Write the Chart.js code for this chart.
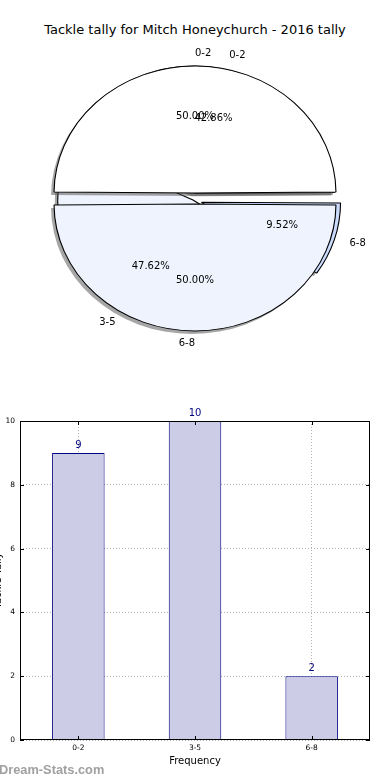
<!DOCTYPE html>
<html>
<head>
<meta charset="utf-8">
<script src="https://cdn.jsdelivr.net/npm/chart.js@4.4.1/dist/chart.umd.min.js"></script>
<style>
  html, body { margin: 0; padding: 0; background: #fff; }
  body { width: 390px; height: 780px; position: relative; overflow: hidden; font-family: "DejaVu Sans", sans-serif; }
  canvas { position: absolute; left: 0; }
  #title { position: absolute; top: 22px; left: 0; width: 390px; text-align: center; font-size: 13px; line-height: 16px; color: #000; }
  #brand { position: absolute; left: -1px; top: 762px; font-family: "Liberation Sans", sans-serif; font-size: 12.8px; font-weight: bold; line-height: 15px; color: #a0a0a0; }
</style>
</head>
<body>
<div id="title">Tackle tally for Mitch Honeychurch - 2016 tally</div>
<canvas id="pieBack" width="390" height="398" style="top:0"></canvas>
<canvas id="pieFront" width="390" height="398" style="top:0"></canvas>
<canvas id="bars" width="390" height="390" style="top:390px"></canvas>
<div id="brand">Dream-Stats.com</div>
<script>
// data
const binLabels = ['0-2', '3-5', '6-8'];
const tallyCounts = [9, 10, 2];
const splitLabels = ['0-2', '6-8'];
const splitCounts = [1, 1];
const yTickValues = [0, 2, 4, 6, 8, 10];
const xTitle = 'Frequency';
const yTitle = 'Tackle Tally';

Chart.defaults.font.family = '"DejaVu Sans", sans-serif';

// charts whose slice labels get written on the front canvas
const labelSources = [];

// squash the pie into an ellipse, with a flat shadow under each wedge
const ellipsePlugin = {
  id: 'ellipse',
  beforeDatasetsDraw(chart, args, opts) {
    const meta = chart.getDatasetMeta(0);
    const first = meta.data[0];
    const ctx = chart.ctx;
    ctx.save();
    ctx.translate(first.x, first.y);
    ctx.scale(opts.sx, 1);
    ctx.translate(-first.x, -first.y);

    ctx.save();
    ctx.translate(-3 / opts.sx, 3);
    meta.data.forEach(arc => {
      const real = arc.options;
      arc.options = Object.assign({}, real, { backgroundColor: 'rgba(77,77,77,0.5)', borderWidth: 0 });
      arc.draw(ctx);
      arc.options = real;
    });
    ctx.restore();
  },
  afterDatasetsDraw(chart) {
    chart.ctx.restore();
  }
};

const pieTextPlugin = {
  id: 'pieText',
  afterDraw(chart) {
    const ctx = chart.ctx;
    ctx.save();
    ctx.font = '10px "DejaVu Sans"';
    ctx.fillStyle = '#000';
    ctx.textBaseline = 'middle';
    labelSources.forEach(src => {
      const meta = src.chart.getDatasetMeta(0);
      const values = src.chart.data.datasets[0].data;
      const total = values.reduce((a, b) => a + b, 0);
      meta.data.forEach((arc, i) => {
        const mid = (arc.startAngle + arc.endAngle) / 2;
        const c = Math.cos(mid), s = Math.sin(mid);
        const shift = (arc.options.offset || 0) / 4;
        const px = k => arc.x + src.sx * (shift + k * src.r) * c;
        const py = k => arc.y + (shift + k * src.r) * s;
        ctx.textAlign = Math.abs(c) > 1e-6 ? (c > 0 ? 'left' : 'right') : (s < 0 ? 'left' : 'right');
        ctx.fillText(src.chart.data.labels[i], px(1.1), py(1.1));
        ctx.textAlign = 'center';
        ctx.fillText((values[i] / total * 100).toFixed(2) + '%', px(0.6), py(0.6));
      });
    });
    ctx.restore();
  }
};

function pieChart(id, labels, values, look) {
  // matplotlib goes counter-clockwise from east, Chart.js clockwise: reverse
  const order = labels.map((_, i) => labels.length - 1 - i);
  return new Chart(document.getElementById(id), {
    type: 'pie',
    data: {
      labels: order.map(i => labels[i]),
      datasets: [{
        data: order.map(i => values[i]),
        backgroundColor: order.map(i => look.colors[i]),
        offset: order.map(i => look.offsets[i]),
        borderColor: '#000',
        borderWidth: 1
      }]
    },
    options: {
      responsive: false,
      animation: false,
      events: [],
      rotation: 90,
      radius: look.radius,
      layout: { padding: look.padding },
      plugins: {
        legend: { display: false },
        tooltip: { enabled: false },
        ellipse: { sx: look.sx }
      }
    },
    plugins: [ellipsePlugin]
  });
}

const backPie = pieChart('pieBack', binLabels, tallyCounts, {
  colors: ['#ffffff', '#eef3fe', '#c9dafb'],
  offsets: [28, 0, 32],
  radius: 123,
  sx: 1.10,
  padding: { left: 0, right: 4, top: 2, bottom: 0 }
});
labelSources.push({ chart: backPie, sx: 1.10, r: 128 });

const frontPie = pieChart('pieFront', splitLabels, splitCounts, {
  colors: ['#ffffff', '#eef3fe'],
  offsets: [22, 22],
  radius: 121.5,
  sx: 1.11,
  padding: { left: 0, right: 0, top: 0, bottom: 1 }
});
labelSources.push({ chart: frontPie, sx: 1.11, r: 127 });

// labels of both pies sit on top of both pies, so draw them on the front canvas
frontPie.config.plugins.push(pieTextPlugin);
frontPie.update();

// bar chart: frame, inward ticks, y title
const framePlugin = {
  id: 'frame',
  afterDraw(chart) {
    const { ctx, chartArea: a, scales } = chart;
    const line = (x1, y1, x2, y2) => { ctx.beginPath(); ctx.moveTo(x1, y1); ctx.lineTo(x2, y2); ctx.stroke(); };
    ctx.save();
    ctx.strokeStyle = '#000';
    ctx.lineWidth = 1;
    ctx.strokeRect(a.left + 0.5, a.top + 0.5, a.width - 1, a.height - 1);
    scales.y.ticks.forEach((t, i) => {
      const py = Math.round(scales.y.getPixelForTick(i)) + 0.5;
      line(a.left, py, a.left + 4, py);
      line(a.right - 4, py, a.right, py);
    });
    scales.x.ticks.forEach((t, i) => {
      const px = Math.round(scales.x.getPixelForTick(i)) + 0.5;
      line(px, a.bottom, px, a.bottom - 4);
      line(px, a.top, px, a.top + 4);
    });
    ctx.translate(-2, (a.top + a.bottom) / 2);
    ctx.rotate(-Math.PI / 2);
    ctx.font = '10px "DejaVu Sans"';
    ctx.fillStyle = '#000';
    ctx.textAlign = 'center';
    ctx.textBaseline = 'middle';
    ctx.fillText(yTitle, 0, 0);
    ctx.restore();
  }
};

const valuePlugin = {
  id: 'barValues',
  afterDatasetsDraw(chart) {
    const ctx = chart.ctx;
    const meta = chart.getDatasetMeta(0);
    ctx.save();
    ctx.font = '10px "DejaVu Sans"';
    ctx.fillStyle = '#000080';
    ctx.textAlign = 'center';
    ctx.textBaseline = 'alphabetic';
    meta.data.forEach((bar, i) => ctx.fillText(String(tallyCounts[i]), bar.x, bar.y - 5));
    ctx.restore();
  }
};

new Chart(document.getElementById('bars'), {
  type: 'bar',
  data: {
    labels: binLabels,
    datasets: [{
      data: tallyCounts,
      backgroundColor: '#ccccE6',
      borderColor: '#000080',
      borderWidth: 1,
      barPercentage: 0.45,
      categoryPercentage: 1
    }]
  },
  options: {
    responsive: false,
    animation: false,
    events: [],
    layout: { padding: { top: 31, right: 20, left: 0, bottom: 0 } },
    plugins: { legend: { display: false }, tooltip: { enabled: false } },
    scales: {
      x: {
        offset: true,
        grid: { offset: false, color: '#b3b3b3', drawTicks: false },
        border: { display: false, dash: [1, 2] },
        ticks: { color: '#000', font: { size: 7.5 }, padding: 4, maxRotation: 0 },
        title: { display: true, text: xTitle, color: '#000', font: { size: 10 }, padding: { top: 0, bottom: 13 } },
        afterFit: s => { s.height = 40; }
      },
      y: {
        min: 0,
        max: 10,
        afterBuildTicks: s => { s.ticks = yTickValues.map(v => ({ value: v })); },
        grid: { color: '#b3b3b3', drawTicks: false },
        border: { display: false, dash: [1, 2] },
        ticks: { color: '#000', font: { size: 7.5 }, padding: 5 },
        afterFit: s => { s.width = 20; }
      }
    }
  },
  plugins: [framePlugin, valuePlugin]
});
</script>
</body>
</html>
